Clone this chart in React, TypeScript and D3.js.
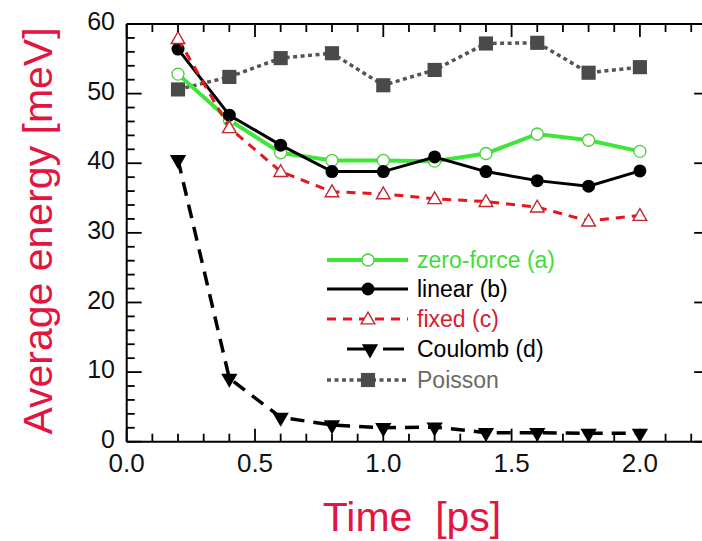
import * as d3 from "d3";

// ── Data ──────────────────────────────────────────────────
const times     = [0.2, 0.4, 0.6, 0.8, 1.0, 1.2, 1.4, 1.6, 1.8, 2.0];
const zeroForce = [52.8, 46.2, 41.5, 40.4, 40.4, 40.3, 41.4, 44.2, 43.3, 41.7];
const linear    = [56.4, 46.9, 42.6, 38.8, 38.8, 40.9, 38.8, 37.5, 36.7, 38.9];
const fixed     = [57.9, 45.1, 38.8, 35.9, 35.6, 34.9, 34.5, 33.7, 31.7, 32.5];
const coulomb   = [40.5, 9.1, 3.5, 2.4, 2.0, 2.1, 1.3, 1.3, 1.2, 1.2];
const poisson   = [50.6, 52.4, 55.1, 55.8, 51.2, 53.4, 57.2, 57.3, 53.0, 53.8];

const xTickLabels = ["0.0", "0.5", "1.0", "1.5", "2.0"];
const yTicks      = [0, 10, 20, 30, 40, 50, 60];

// ── Layout ────────────────────────────────────────────────
const W = 702;
const H = 541;
const X0 = 126.7;
const PX_PER_PS = 256.6;
const X_MAX = 2.27;
const Y_TOP = 24;
const Y_BOT = 441.7;

const x = d3.scaleLinear().domain([0, X_MAX]).range([X0, X0 + X_MAX * PX_PER_PS]);
const y = d3.scaleLinear().domain([0, 60]).range([Y_BOT, Y_TOP]);

const GREEN = "#3fe63a";
const RED = "#e8141e";
const DARKRED = "#c4262e";
const GREY = "#555555";
const TITLE_RED = "#e3143f";
const FONT = "Arial, 'Liberation Sans', sans-serif";

const line = d3.line<number>()
  .x((_, i) => x(times[i]))
  .y(d => y(d));

const sq      = d3.symbol().type(d3.symbolSquare).size(200)()!;
const tri     = d3.symbol().type(d3.symbolTriangle).size(80)()!;
const triDown = d3.symbol().type(d3.symbolTriangle).size(115)()!;

const minorX = d3.range(0, 23).map(i => i / 10);
const minorY = d3.range(0, 31).map(i => i * 2);

type Series = {
  id: string;
  label: string;
  values: number[];
  color: string;
  width: number;
  dash?: string;
  textColor: string;
  marker: (key: string, cx: number, cy: number) => JSX.Element;
};

const markerCircleOpen = (k: string, cx: number, cy: number) => (
  <circle key={k} cx={cx} cy={cy} r={6} fill="white" stroke="#4ccf3c" strokeWidth={1.3} />
);
const markerCircleFill = (k: string, cx: number, cy: number) => (
  <circle key={k} cx={cx} cy={cy} r={6.5} fill="black" />
);
const markerTriOpen = (k: string, cx: number, cy: number) => (
  <path key={k} d={tri} transform={`translate(${cx},${cy + 1})`} fill="white" stroke={DARKRED} strokeWidth={1.4} />
);
const markerTriDown = (k: string, cx: number, cy: number) => (
  <path key={k} d={triDown} transform={`translate(${cx},${cy}) rotate(180)`} fill="black" />
);
const markerSquare = (k: string, cx: number, cy: number) => (
  <path key={k} d={sq} transform={`translate(${cx},${cy})`} fill="#4a4a4a" />
);

const series: Series[] = [
  { id: "poisson", label: "Poisson", values: poisson, color: GREY, width: 3.5, dash: "4 3.5", textColor: "#6a6a6a", marker: markerSquare },
  { id: "coulomb", label: "Coulomb (d)", values: coulomb, color: "black", width: 3.5, dash: "14 9", textColor: "black", marker: markerTriDown },
  { id: "zero", label: "zero-force (a)", values: zeroForce, color: GREEN, width: 4, textColor: "#3fdc3a", marker: markerCircleOpen },
  { id: "linear", label: "linear (b)", values: linear, color: "black", width: 3, textColor: "black", marker: markerCircleFill },
  { id: "fixed", label: "fixed (c)", values: fixed, color: RED, width: 3, dash: "9 7", textColor: "#d41c2c", marker: markerTriOpen },
];

const legendOrder = ["zero", "linear", "fixed", "coulomb", "poisson"];
const legendRows  = [260, 289, 319, 349, 380];
const LEG_X1 = 327;
const LEG_X2 = 408;
const LEG_MID = 368;
const LEG_TEXT_X = 417;

export default function App() {
  return (
    <svg width={W} height={H} style={{ position: "absolute", left: 0, top: 0, background: "white" }}
      fontFamily={FONT}>
      <rect width={W} height={H} fill="white" />

      {/* ── Series ── */}
      {series.map(s => (
        <g key={s.id}>
          <path d={line(s.values)!} fill="none" stroke={s.color} strokeWidth={s.width}
            strokeDasharray={s.dash} />
          {s.values.map((v, i) => s.marker(`${s.id}-${i}`, x(times[i]), y(v)))}
        </g>
      ))}

      {/* ── Frame ── */}
      <g stroke="black" strokeWidth={2} fill="none">
        <line x1={x(0)} x2={x(X_MAX)} y1={Y_BOT} y2={Y_BOT} />
        <line x1={x(0)} x2={x(X_MAX)} y1={Y_TOP} y2={Y_TOP} />
        <line x1={x(0)} x2={x(0)} y1={Y_TOP} y2={Y_BOT} />
        <line x1={x(X_MAX)} x2={x(X_MAX)} y1={Y_TOP} y2={Y_BOT} />
      </g>

      {/* ── Ticks ── */}
      <g stroke="black" strokeWidth={1.8}>
        {minorX.map((t, i) => {
          const len = i % 5 === 0 ? 13 : 8;
          return (
            <g key={i}>
              <line x1={x(t)} x2={x(t)} y1={Y_BOT} y2={Y_BOT - len} />
              <line x1={x(t)} x2={x(t)} y1={Y_TOP} y2={Y_TOP + len} />
            </g>
          );
        })}
        {minorY.map((v, i) => {
          const len = i % 5 === 0 ? 15 : 8;
          return (
            <g key={`y${i}`}>
              <line x1={x(0)} x2={x(0) + len} y1={y(v)} y2={y(v)} />
              {i % 5 === 0 && (
                <line x1={x(X_MAX)} x2={x(X_MAX) - len} y1={y(v)} y2={y(v)} />
              )}
            </g>
          );
        })}
      </g>

      {/* ── Tick labels ── */}
      {xTickLabels.map(lbl => (
        <text key={lbl} x={x(+lbl)} y={472} textAnchor="middle" fontSize={26} fill="#111">
          {lbl}
        </text>
      ))}
      {yTicks.map(v => (
        <text key={v} x={115} y={y(v)} dy="0.25em" textAnchor="end" fontSize={25} fill="#111">
          {v}
        </text>
      ))}

      {/* ── Axis titles ── */}
      <text x={412} y={531} textAnchor="middle" fontSize={41} fill={TITLE_RED} xmlSpace="preserve">
        Time  [ps]
      </text>
      <text transform={`translate(52,${231}) rotate(-90)`} textAnchor="middle" fontSize={41} fill={TITLE_RED}>
        Average energy [meV]
      </text>

      {/* ── Legend ── */}
      {legendOrder.map((id, i) => {
        const s = series.find(d => d.id === id)!;
        const ly = legendRows[i];
        return (
          <g key={id}>
            {id === "coulomb" ? (
              <>
                <line x1={347} x2={366} y1={ly} y2={ly} stroke="black" strokeWidth={3} />
                <line x1={383} x2={404} y1={ly} y2={ly} stroke="black" strokeWidth={3} />
              </>
            ) : (
              <line x1={LEG_X1} x2={LEG_X2} y1={ly} y2={ly} stroke={s.color} strokeWidth={s.width}
                strokeDasharray={s.dash} />
            )}
            {s.marker(`leg-${id}`, id === "coulomb" ? 370 : LEG_MID, ly)}
            <text x={LEG_TEXT_X} y={ly} dy="0.35em" fontSize={23} fill={s.textColor}>
              {s.label}
            </text>
          </g>
        );
      })}
    </svg>
  );
}
